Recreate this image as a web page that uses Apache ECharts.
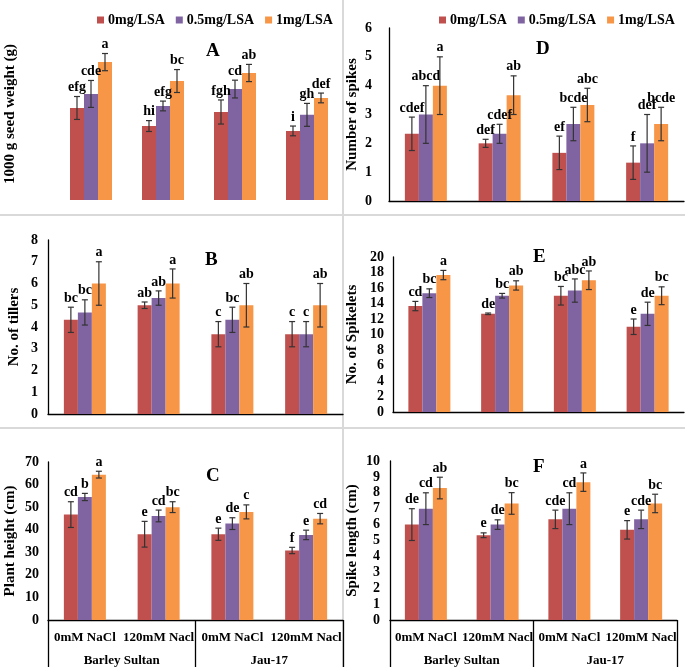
<!DOCTYPE html>
<html>
<head>
<meta charset="utf-8">
<script src="https://cdn.jsdelivr.net/npm/echarts@6/dist/echarts.min.js"></script>
<style>html,body{margin:0;padding:0;background:#fff}#c{width:685px;height:667px}</style>
</head>
<body>
<div id="c"></div>
<script>
// ---------- DATA ----------
const seriesNames = ['0mg/LSA', '0.5mg/LSA', '1mg/LSA'];
const categories = ['0mM NaCl', '120mM Nacl', '0mM NaCl', '120mM Nacl'];
const cultivars = ['Barley Sultan', 'Jau-17'];

// A: 1000 g seed weight (g)
const seed0 = [32.1, 25.8, 30.7, 24.1];
const seed05 = [37.0, 32.8, 38.7, 29.7];
const seed1 = [48.1, 41.5, 44.3, 35.6];
const seedErr0 = [4.0, 1.9, 4.2, 1.7];
const seedErr05 = [4.7, 1.7, 3.1, 4.0];
const seedErr1 = [3.0, 4.0, 3.0, 1.7];
const seedLet0 = ['efg', 'hi', 'fgh', 'i'];
const seedLet05 = ['cde', 'efg', 'cd', 'gh'];
const seedLet1 = ['a', 'bc', 'ab', 'def'];

// B: No. of tillers
const till0 = [4.33, 5.0, 3.67, 3.67];
const till05 = [4.67, 5.33, 4.33, 3.67];
const till1 = [6.0, 6.0, 5.0, 5.0];
const tillErr0 = [0.58, 0.15, 0.58, 0.58];
const tillErr05 = [0.58, 0.33, 0.58, 0.58];
const tillErr1 = [1.0, 0.67, 1.0, 1.0];
const tillLet0 = ['bc', 'ab', 'c', 'c'];
const tillLet05 = ['bc', 'ab', 'bc', 'c'];
const tillLet1 = ['a', 'a', 'ab', 'ab'];

// C: Plant height (cm)
const height0 = [46.7, 38.0, 38.0, 30.8];
const height05 = [54.5, 46.1, 42.7, 37.7];
const height1 = [64.4, 50.0, 47.9, 44.9];
const heightErr0 = [5.7, 5.7, 2.7, 1.4];
const heightErr05 = [1.6, 2.6, 2.6, 2.1];
const heightErr1 = [1.5, 2.4, 3.1, 2.3];
const heightLet0 = ['cd', 'e', 'e', 'f'];
const heightLet05 = ['b', 'cd', 'de', 'e'];
const heightLet1 = ['a', 'bc', 'c', 'cd'];

// D: Number of spikes
const spikes0 = [2.33, 2.0, 1.67, 1.33];
const spikes05 = [3.0, 2.33, 2.67, 2.0];
const spikes1 = [4.0, 3.67, 3.33, 2.67];
const spikesErr0 = [0.58, 0.14, 0.58, 0.58];
const spikesErr05 = [1.0, 0.33, 0.58, 1.0];
const spikesErr1 = [1.0, 0.67, 0.58, 0.58];
const spikesLet0 = ['cdef', 'def', 'ef', 'f'];
const spikesLet05 = ['abcd', 'cdef', 'bcde', 'def'];
const spikesLet1 = ['a', 'ab', 'abc', 'bcde'];

// E: No. of Spikelets
const spklt0 = [13.67, 12.67, 15.0, 11.0];
const spklt05 = [15.33, 15.0, 15.67, 12.67];
const spklt1 = [17.67, 16.33, 17.0, 15.0];
const spkltErr0 = [0.6, 0.1, 1.2, 1.0];
const spkltErr05 = [0.56, 0.3, 1.5, 1.5];
const spkltErr1 = [0.6, 0.6, 1.2, 1.15];
const spkltLet0 = ['cd', 'de', 'bc', 'e'];
const spkltLet05 = ['bc', 'bc', 'abc', 'de'];
const spkltLet1 = ['a', 'ab', 'ab', 'bc'];

// F: Spike length (cm)
const slen0 = [6.0, 5.33, 6.33, 5.67];
const slen05 = [7.0, 6.0, 7.0, 6.33];
const slen1 = [8.3, 7.33, 8.67, 7.33];
const slenErr0 = [1.0, 0.15, 0.58, 0.58];
const slenErr05 = [1.0, 0.3, 1.0, 0.58];
const slenErr1 = [0.68, 0.68, 0.58, 0.58];
const slenLet0 = ['de', 'e', 'cde', 'e'];
const slenLet05 = ['cd', 'de', 'cd', 'cde'];
const slenLet1 = ['ab', 'bc', 'a', 'bc'];

// ---------- STYLE / LAYOUT ----------
const colors = ['#C0504D', '#8064A2', '#F79646'];
const FONT = '"Liberation Serif","Times New Roman",serif';
const BAR_W = 14;

const panels = [
  { id: 'A', title: '1000 g seed weight (g)', grid: { left: 55, top: 28, width: 288, height: 172 },
    min: 0, max: 60, interval: 10, hideAxis: true, nameGap: 37, labelMargin: 10,
    vals: [seed0, seed05, seed1], errs: [seedErr0, seedErr05, seedErr1], lets: [seedLet0, seedLet05, seedLet1],
    letter: [213, 52], legend: 92 },
  { id: 'B', title: 'No. of tillers', grid: { left: 48, top: 240, width: 295, height: 174 },
    min: 0, max: 8, interval: 1, nameGap: 26, labelMargin: 10,
    vals: [till0, till05, till1], errs: [tillErr0, tillErr05, tillErr1], lets: [tillLet0, tillLet05, tillLet1],
    letter: [212, 261] },
  { id: 'C', title: 'Plant height (cm)', grid: { left: 48, top: 462, width: 295, height: 158 },
    min: 0, max: 70, interval: 10, nameGap: 30, labelMargin: 9, bottomAxis: true,
    vals: [height0, height05, height1], errs: [heightErr0, heightErr05, heightErr1], lets: [heightLet0, heightLet05, heightLet1],
    letter: [213, 477] },
  { id: 'D', title: 'Number of spikes', grid: { left: 389, top: 28, width: 295, height: 173 },
    min: 0, max: 6, interval: 1, nameGap: 29, labelMargin: 17,
    vals: [spikes0, spikes05, spikes1], errs: [spikesErr0, spikesErr05, spikesErr1], lets: [spikesLet0, spikesLet05, spikesLet1],
    letter: [543, 50], legend: 434 },
  { id: 'E', title: 'No. of Spikelets', grid: { left: 393, top: 257, width: 291, height: 155 },
    min: 0, max: 20, interval: 2, nameGap: 33, labelMargin: 9,
    vals: [spklt0, spklt05, spklt1], errs: [spkltErr0, spkltErr05, spkltErr1], lets: [spkltLet0, spkltLet05, spkltLet1],
    letter: [540, 258] },
  { id: 'F', title: 'Spike length (cm)', grid: { left: 390, top: 461, width: 287, height: 159 },
    min: 0, max: 10, interval: 1, nameGap: 30, labelMargin: 10, bottomAxis: true,
    vals: [slen0, slen05, slen1], errs: [slenErr0, slenErr05, slenErr1], lets: [slenLet0, slenLet05, slenLet1],
    letter: [540, 468] }
];

const grids = [], xAxes = [], yAxes = [], series = [], legends = [], graphics = [];

panels.forEach((p, pi) => {
  grids.push(Object.assign({ containLabel: false }, p.grid));
  const xi = xAxes.length;
  xAxes.push({
    type: 'category', gridIndex: pi, data: categories,
    axisLine: { show: !p.hideAxis, lineStyle: { color: '#000', width: 1.3 } },
    axisTick: { show: false },
    axisLabel: { show: !!p.bottomAxis, interval: 0, margin: 11, color: '#000',
      fontFamily: FONT, fontWeight: 'bold', fontSize: 13 },
    splitLine: { show: false }
  });
  if (p.bottomAxis) {
    xAxes.push({
      type: 'category', gridIndex: pi, data: cultivars, position: 'bottom',
      axisLine: { show: false },
      axisTick: { show: true, length: 48, lineStyle: { color: '#000', width: 1.3 } },
      axisLabel: { show: true, interval: 0, margin: 34, color: '#000',
        fontFamily: FONT, fontWeight: 'bold', fontSize: 13 },
      splitLine: { show: false }
    });
  }
  yAxes.push({
    type: 'value', gridIndex: pi, min: p.min, max: p.max, interval: p.interval,
    name: p.title, nameLocation: 'middle', nameGap: p.nameGap,
    nameTextStyle: { color: '#000', fontFamily: FONT, fontWeight: 'bold', fontSize: 15 },
    axisLine: { show: !p.hideAxis, lineStyle: { color: '#000', width: 1.3 } },
    axisTick: { show: false },
    axisLabel: { show: !p.hideAxis, margin: p.labelMargin, color: '#000',
      fontFamily: FONT, fontWeight: 'bold', fontSize: 14 },
    splitLine: { show: false }
  });
  for (let s = 0; s < 3; s++) {
    series.push({
      type: 'bar', name: seriesNames[s], xAxisIndex: xi, yAxisIndex: pi,
      data: p.vals[s], barWidth: BAR_W, barGap: '0%',
      itemStyle: { color: colors[s] }, z: 2
    });
    const lets = p.lets[s];
    const offset = (s - 1) * BAR_W;
    series.push({
      type: 'custom', name: 'err' + p.id + s, xAxisIndex: xi, yAxisIndex: pi, z: 5,
      data: p.vals[s].map((v, i) => [i, v, p.errs[s][i]]),
      renderItem: function (params, api) {
        const i = api.value(0), v = api.value(1), e = api.value(2);
        const top = api.coord([i, v + e]);
        const bot = api.coord([i, v - e]);
        const x = top[0] + offset;
        const ls = { stroke: '#333', lineWidth: 1.2 };
        return {
          type: 'group', children: [
            { type: 'line', shape: { x1: x, y1: top[1], x2: x, y2: bot[1] }, style: ls },
            { type: 'line', shape: { x1: x - 3, y1: top[1], x2: x + 3, y2: top[1] }, style: ls },
            { type: 'line', shape: { x1: x - 3, y1: bot[1], x2: x + 3, y2: bot[1] }, style: ls },
            { type: 'text', style: { text: lets[i], x: x, y: top[1] - 2, align: 'center', verticalAlign: 'bottom',
                font: 'bold 14px ' + FONT, fill: '#000' } }
          ]
        };
      }
    });
  }
  if (p.legend !== undefined) {
    legends.push({
      left: p.legend, top: 8, data: seriesNames, icon: 'rect', itemWidth: 7, itemHeight: 7, itemGap: 11,
      selectedMode: false,
      textStyle: { color: '#000', fontFamily: FONT, fontWeight: 'bold', fontSize: 14, padding: [0, 0, 0, -1] }
    });
  }
  graphics.push({
    type: 'text', left: p.letter[0] - 7, top: p.letter[1] - 10,
    style: { text: p.id, font: 'bold 19px ' + FONT, fill: '#000' }
  });
});

// panel dividers
graphics.push({ type: 'line', shape: { x1: 343, y1: 0, x2: 343, y2: 667 }, style: { stroke: '#d9d9d9', lineWidth: 2 }, z: -1 });
graphics.push({ type: 'line', shape: { x1: 0, y1: 215, x2: 685, y2: 215 }, style: { stroke: '#d9d9d9', lineWidth: 2 }, z: -1 });
graphics.push({ type: 'line', shape: { x1: 0, y1: 428, x2: 685, y2: 428 }, style: { stroke: '#d9d9d9', lineWidth: 2 }, z: -1 });

const chart = echarts.init(document.getElementById('c'), null, { renderer: 'canvas' });
chart.setOption({
  animation: false,
  backgroundColor: '#fff',
  grid: grids, xAxis: xAxes, yAxis: yAxes, legend: legends, series: series, graphic: graphics
});
</script>
</body>
</html>
